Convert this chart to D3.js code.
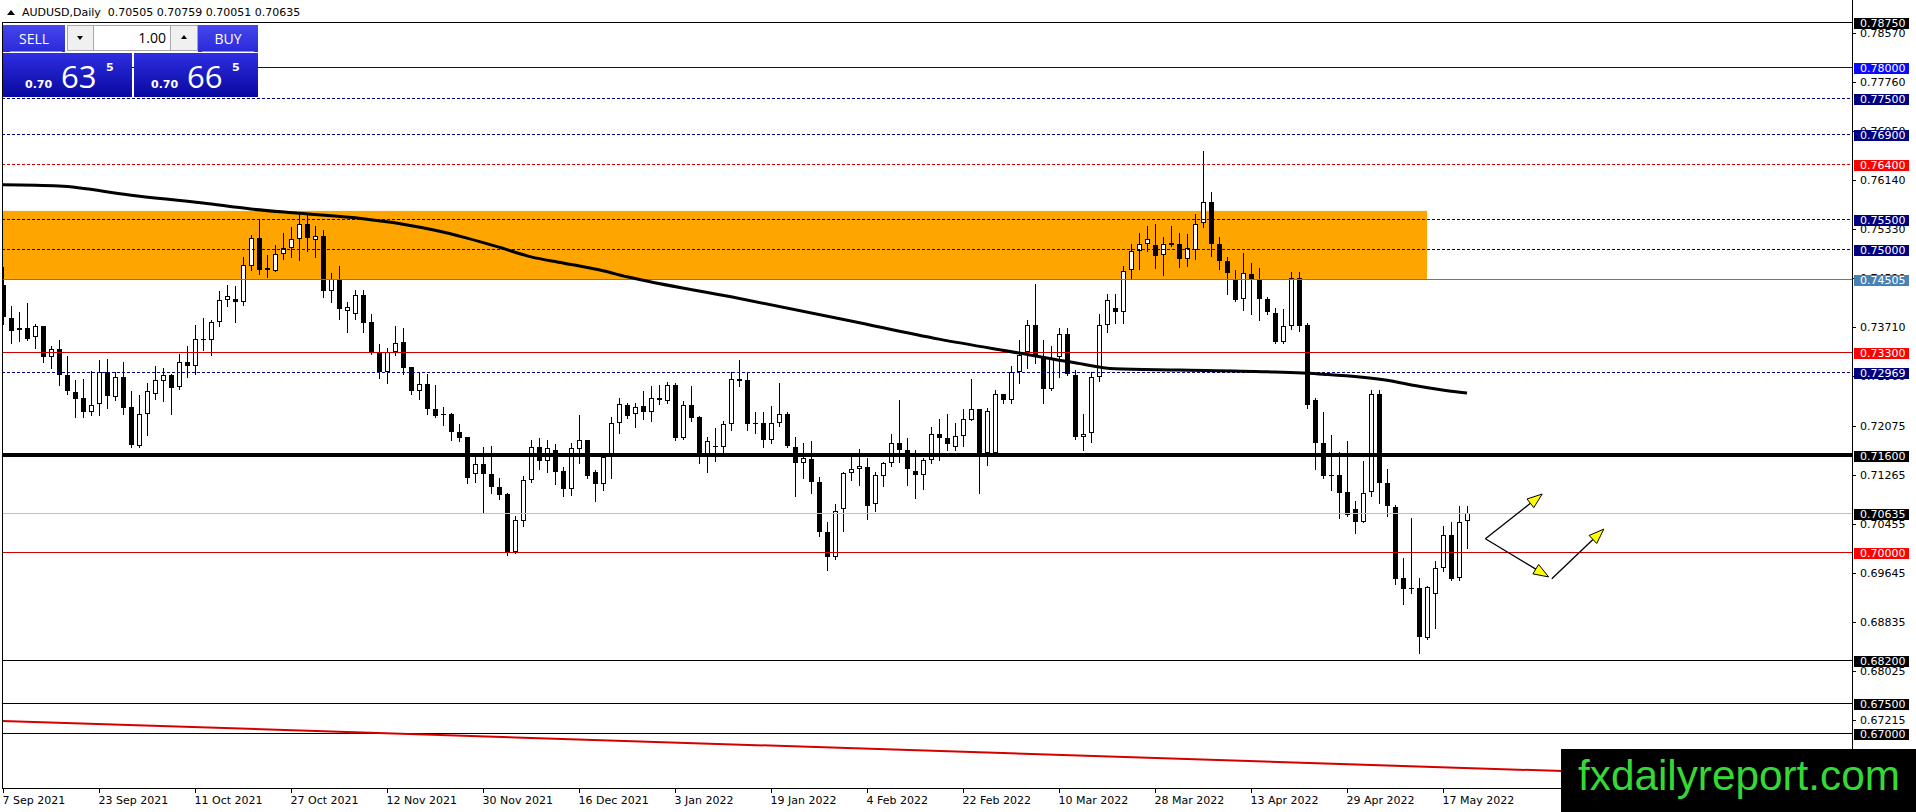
<!DOCTYPE html>
<html>
<head>
<meta charset="utf-8">
<script src="https://d3js.org/d3.v7.min.js"></script>
<style>
  body { margin: 0; background: #fff; overflow: hidden; }
  text { font-family: "DejaVu Sans", sans-serif; }
</style>
</head>
<body>
<div id="vis"></div>
<script>
// AUDUSD daily, 7 Sep 2021 .. 20 May 2022
const opens = [
 .7441,.7386,.7366,.7370,.7355,.7372,.7321,.7335,.7292,.7264,.7254,.7231,.7243,.7297,.7256,.7288,.7239,.7175,.7227,.7260,
 .7282,.7292,.7272,.7313,.7307,.7351,.7350,.7379,.7416,.7417,.7412,.7472,.7518,.7469,.7464,.7491,.7501,.7516,.7542,.7515,
 .7521,.7431,.7448,.7398,.7392,.7424,.7379,.7329,.7296,.7330,.7346,.7305,.7266,.7277,.7235,.7226,.7227,.7198,.7190,.7128,
 .7145,.7128,.7107,.7095,.6999,.7051,.7119,.7172,.7149,.7168,.7133,.7104,.7169,.7184,.7131,.7111,.7156,.7213,.7242,.7228,
 .7240,.7231,.7250,.7249,.7276,.7188,.7242,.7223,.7159,.7172,.7173,.7210,.7285,.7283,.7212,.7212,.7185,.7212,.7227,.7173,
 .7146,.7153,.7115,.7033,.6991,.7070,.7129,.7137,.7140,.7078,.7125,.7147,.7180,.7168,.7133,.7127,.7152,.7195,.7188,.7172,
 .7191,.7218,.7235,.7162,.7162,.7261,.7251,.7296,.7329,.7374,.7321,.7268,.7321,.7360,.7291,.7190,.7196,.7288,.7375,.7403,
 .7396,.7465,.7497,.7509,.7506,.7490,.7510,.7508,.7483,.7499,.7543,.7577,.7508,.7480,.7451,.7417,.7459,.7450,.7418,.7394,
 .7347,.7372,.7452,.7374,.7251,.7179,.7126,.7127,.7099,.7071,.7049,.7098,.7260,.7113,.7073,.6956,.6939,.6939,.6857,.6930,
 .6972,.7028,.6956,.70505];
const highs = [
 .7471,.7406,.7396,.7411,.7376,.7373,.7340,.7350,.7323,.7283,.7285,.7298,.7317,.7318,.7296,.7313,.7265,.7259,.7279,.7306,
 .7303,.7294,.7326,.7340,.7374,.7386,.7383,.7430,.7441,.7439,.7486,.7523,.7548,.7490,.7507,.7526,.7537,.7556,.7556,.7538,
 .7532,.7460,.7472,.7413,.7432,.7432,.7393,.7343,.7336,.7373,.7370,.7305,.7296,.7293,.7275,.7239,.7229,.7211,.7190,.7160,
 .7172,.7174,.7121,.7097,.7058,.7124,.7185,.7187,.7184,.7177,.7139,.7179,.7226,.7185,.7135,.7156,.7222,.7253,.7246,.7246,
 .7265,.7273,.7275,.7280,.7278,.7249,.7274,.7224,.7189,.7204,.7216,.7296,.7316,.7296,.7231,.7230,.7240,.7279,.7231,.7189,
 .7179,.7183,.7123,.7048,.7078,.7132,.7156,.7170,.7155,.7131,.7148,.7195,.7250,.7187,.7168,.7155,.7206,.7219,.7228,.7212,
 .7235,.7285,.7235,.7238,.7267,.7261,.7307,.7349,.7383,.7442,.7350,.7340,.7369,.7369,.7300,.7228,.7296,.7393,.7425,.7425,
 .7472,.7508,.7527,.7538,.7541,.7519,.7538,.7526,.7524,.7558,.7662,.7594,.7519,.7487,.7466,.7494,.7477,.7469,.7421,.7403,
 .7400,.7462,.7462,.7378,.7254,.7230,.7193,.7164,.7183,.7083,.7150,.7267,.7267,.7137,.7077,.6990,.7056,.6956,.6943,.6985,
 .7042,.7048,.7075,.70759];
const lows = [
 .7376,.7345,.7348,.7350,.7337,.7314,.7303,.7276,.7261,.7222,.7223,.7226,.7225,.7238,.7250,.7228,.7172,.7173,.7193,.7252,
 .7249,.7228,.7269,.7289,.7293,.7333,.7324,.7373,.7405,.7380,.7408,.7466,.7459,.7454,.7463,.7483,.7487,.7481,.7496,.7486,
 .7421,.7413,.7384,.7362,.7385,.7362,.7326,.7287,.7278,.7324,.7293,.7260,.7252,.7228,.7222,.7209,.7184,.7182,.7114,.7115,
 .7064,.7096,.7086,.6995,.6998,.7042,.7115,.7136,.7132,.7112,.7092,.7093,.7147,.7121,.7084,.7102,.7122,.7196,.7220,.7206,
 .7219,.7215,.7244,.7245,.7185,.7186,.7216,.7147,.7132,.7150,.7162,.7201,.7273,.7200,.7196,.7172,.7179,.7208,.7173,.7092,
 .7122,.7097,.7026,.6969,.6988,.7034,.7119,.7110,.7053,.7067,.7109,.7142,.7148,.7110,.7088,.7103,.7146,.7152,.7168,.7168,
 .7174,.7217,.7096,.7143,.7161,.7245,.7245,.7278,.7303,.7312,.7246,.7267,.7289,.7292,.7186,.7167,.7181,.7282,.7362,.7377,
 .7377,.7451,.7467,.7497,.7468,.7457,.7505,.7471,.7472,.7484,.7536,.7488,.7467,.7426,.7414,.7399,.7392,.7383,.7392,.7344,
 .7345,.7368,.7364,.7237,.7136,.7121,.7102,.7056,.7059,.7031,.7048,.7091,.7080,.7059,.6947,.6913,.6932,.6832,.6855,.6874,
 .6967,.6953,.6953,.70051];
const closes = [
 .7387,.7365,.7370,.7351,.7372,.7321,.7335,.7291,.7266,.7252,.7231,.7242,.7297,.7257,.7289,.7238,.7176,.7227,.7265,.7283,
 .7292,.7271,.7313,.7307,.7351,.7349,.7379,.7416,.7422,.7412,.7474,.7518,.7466,.7466,.7492,.7501,.7516,.7542,.7518,.7521,
 .7431,.7450,.7400,.7404,.7424,.7378,.7328,.7296,.7330,.7345,.7304,.7266,.7277,.7235,.7224,.7227,.7197,.7188,.7122,.7145,
 .7128,.7106,.7094,.6998,.7052,.7119,.7172,.7149,.7171,.7132,.7104,.7171,.7184,.7124,.7111,.7156,.7213,.7243,.7224,.7239,
 .7231,.7253,.7253,.7276,.7187,.7242,.7221,.7159,.7183,.7175,.7211,.7285,.7282,.7210,.7211,.7185,.7212,.7227,.7175,.7146,
 .7154,.7115,.7033,.6991,.7067,.7129,.7137,.7141,.7076,.7127,.7147,.7180,.7167,.7137,.7127,.7152,.7195,.7187,.7177,.7191,
 .7219,.7235,.7161,.7232,.7261,.7251,.7297,.7325,.7374,.7322,.7268,.7319,.7360,.7293,.7190,.7195,.7288,.7375,.7415,.7396,
 .7464,.7497,.7509,.7516,.7489,.7509,.7507,.7483,.7501,.7542,.7577,.7509,.7480,.7460,.7416,.7460,.7450,.7418,.7396,.7347,
 .7372,.7452,.7372,.7242,.7180,.7124,.7124,.7096,.7060,.7049,.7096,.7260,.7113,.7076,.6955,.6938,.6938,.6858,.6941,.6972,
 .7028,.6955,.7049,.70635];

// moving average (thick black line), read at these bars
const maBars   = [0, 7, 16, 25, 31, 37, 45, 50, 54, 58, 62, 66, 70, 75, 78, 91, 106, 117, 127, 134, 139, 147, 158, 165, 173, 177, 181, 183];
const maValues = [.7606,.7604,.7589,.7576,.7566,.7559,.7550,.7541,.7531,.7518,.7503,.7487,.7477,.7464,.7454,.7421,.7381,.7351,.7328,.7312,.7302,.7300,.7297,.7293,.7283,.7273,.7265,.7262];

// horizontal levels and their kinds
const levelPrices = [0.78750, 0.78000, 0.77500, 0.76900, 0.76400, 0.75500, 0.75000, 0.74505, 0.73300, 0.72969, 0.71600, 0.70635, 0.70000, 0.68200, 0.67500, 0.67000];
const levelKinds  = ["black", "blue", "navy", "navy", "redDash", "navy", "navy", "steel", "red", "navy", "thick", "bid", "red", "black", "black", "black"];

// supply zone rectangle
const zoneBars   = [-1, 178];
const zonePrices = [0.7563, 0.74505];

// red trend line anchors
const trendBars   = [0, 195];
const trendPrices = [0.6720, 0.6637];

// yellow arrows
const arrowFromBar   = [185.3, 185.3, 193.6];
const arrowFromPrice = [0.7021, 0.7021, 0.6955];
const arrowToBar     = [192.4, 193.2, 200.1];
const arrowToPrice   = [0.7095, 0.6958, 0.7037];

// axes
const yTickLabels = ["0.78570", "0.77760", "0.76950", "0.76140", "0.75330", "0.74520", "0.73710", "0.72900", "0.72075", "0.71265", "0.70455", "0.69645", "0.68835", "0.68025", "0.67215"];
const xTickBars   = [0, 12, 24, 36, 48, 60, 72, 84, 96, 108, 120, 132, 144, 156, 168, 180];
const xTickLabels = ["7 Sep 2021", "23 Sep 2021", "11 Oct 2021", "27 Oct 2021", "12 Nov 2021", "30 Nov 2021", "16 Dec 2021", "3 Jan 2022", "19 Jan 2022", "4 Feb 2022", "22 Feb 2022", "10 Mar 2022", "28 Mar 2022", "13 Apr 2022", "29 Apr 2022", "17 May 2022"];

const width = 1916, height = 812;
const plot = { left: 2, right: 1852, top: 0, bottom: 788 };

const svg = d3.select('#vis').append('svg')
  .attr('width', width).attr('height', height)
  .style('display', 'block');

const x = d3.scaleLinear().domain([0, 231]).range([3, 3 + 231 * 8]);
const y = d3.scaleLinear().domain([0.67215, 0.78570]).range([720, 33]);

const styles = {
  black:   { stroke: '#000000', w: 1, dash: null, box: '#000000' },
  blue:    { stroke: '#0000cd', w: 1, dash: null, box: '#0a0aff' },
  navy:    { stroke: '#000080', w: 1, dash: '3,2', box: '#000080' },
  redDash: { stroke: '#d00000', w: 1, dash: '3,2', box: '#ff0000' },
  steel:   { stroke: '#4682b4', w: 1, dash: null, box: '#4682b4' },
  red:     { stroke: '#d00000', w: 1, dash: null, box: '#ff0000' },
  thick:   { stroke: '#000000', w: 4, dash: null, box: '#000000' },
  bid:     { stroke: '#c0c0c0', w: 1, dash: null, box: '#000000' }
};

svg.append('defs').append('clipPath').attr('id', 'plotclip')
  .append('rect')
  .attr('x', plot.left).attr('y', plot.top)
  .attr('width', plot.right - plot.left).attr('height', plot.bottom - plot.top);

const g = svg.append('g').attr('clip-path', 'url(#plotclip)');

// zone
g.append('rect')
  .attr('x', x(zoneBars[0])).attr('y', y(zonePrices[0]))
  .attr('width', x(zoneBars[1]) - x(zoneBars[0]))
  .attr('height', y(zonePrices[1]) - y(zonePrices[0]))
  .attr('fill', '#ffa500');

// candles
const candles = g.append('g').attr('shape-rendering', 'crispEdges');
opens.forEach((o, i) => {
  const c = closes[i];
  const cx = Math.round(x(i));
  const top = Math.round(y(Math.max(o, c)));
  const bot = Math.round(y(Math.min(o, c)));
  candles.append('line')
    .attr('x1', cx + 0.5).attr('x2', cx + 0.5)
    .attr('y1', Math.round(y(highs[i]))).attr('y2', Math.round(y(lows[i])) + 1)
    .attr('stroke', '#000').attr('stroke-width', 1);
  if (bot - top < 2) {
    candles.append('rect')
      .attr('x', cx - 2).attr('y', top).attr('width', 5).attr('height', 1)
      .attr('fill', '#000');
  } else if (c >= o) {
    candles.append('rect')
      .attr('x', cx - 1.5).attr('y', top + 0.5).attr('width', 4).attr('height', bot - top - 1)
      .attr('fill', '#fff').attr('stroke', '#000').attr('stroke-width', 1);
  } else {
    candles.append('rect')
      .attr('x', cx - 2).attr('y', top).attr('width', 5).attr('height', bot - top)
      .attr('fill', '#000');
  }
});

// horizontal levels
levelPrices.forEach((p, i) => {
  const s = styles[levelKinds[i]];
  const yy = Math.round(y(p)) + (s.w % 2 ? 0.5 : 0);
  g.append('line')
    .attr('x1', plot.left).attr('x2', plot.right)
    .attr('y1', yy).attr('y2', yy)
    .attr('stroke', s.stroke).attr('stroke-width', s.w)
    .attr('stroke-dasharray', s.dash);
});

// moving average
g.append('path')
  .datum(maBars.map((b, i) => [b, maValues[i]]))
  .attr('d', d3.line().x(d => x(d[0])).y(d => y(d[1])).curve(d3.curveMonotoneX))
  .attr('fill', 'none').attr('stroke', '#000').attr('stroke-width', 3);

// trend line
g.append('line')
  .attr('x1', x(trendBars[0]) - 2).attr('y1', y(trendPrices[0]))
  .attr('x2', x(trendBars[1])).attr('y2', y(trendPrices[1]))
  .attr('stroke', '#d40000').attr('stroke-width', 2);

// arrows
arrowFromBar.forEach((b, i) => {
  const x1 = x(b), y1 = y(arrowFromPrice[i]);
  const x2 = x(arrowToBar[i]), y2 = y(arrowToPrice[i]);
  const ang = Math.atan2(y2 - y1, x2 - x1);
  const len = 15, half = 5.5;
  const bx = x2 - len * Math.cos(ang), by = y2 - len * Math.sin(ang);
  g.append('line')
    .attr('x1', x1).attr('y1', y1).attr('x2', bx).attr('y2', by)
    .attr('stroke', '#000').attr('stroke-width', 1.3);
  const pts = [
    [x2, y2],
    [bx + half * Math.sin(ang), by - half * Math.cos(ang)],
    [bx - half * Math.sin(ang), by + half * Math.cos(ang)]
  ];
  g.append('polygon')
    .attr('points', pts.map(p => p.join(',')).join(' '))
    .attr('fill', '#ffff00').attr('stroke', '#000').attr('stroke-width', 1);
});

// frame
const frame = svg.append('g').attr('shape-rendering', 'crispEdges');
frame.append('line').attr('x1', 2.5).attr('x2', 2.5).attr('y1', y(levelPrices[0])).attr('y2', plot.bottom)
  .attr('stroke', '#000');
frame.append('line').attr('x1', plot.left).attr('x2', plot.right).attr('y1', plot.bottom + 0.5).attr('y2', plot.bottom + 0.5)
  .attr('stroke', '#000');
frame.append('line').attr('x1', plot.right + 0.5).attr('x2', plot.right + 0.5).attr('y1', 0).attr('y2', plot.bottom + 1)
  .attr('stroke', '#000');

// y tick labels
yTickLabels.forEach(t => {
  const yy = Math.round(y(+t)) + 0.5;
  frame.append('line').attr('x1', plot.right).attr('x2', plot.right + 4).attr('y1', yy).attr('y2', yy).attr('stroke', '#000');
  svg.append('text')
    .attr('x', plot.right + 8).attr('y', yy).attr('dy', '0.36em')
    .attr('font-size', 11).attr('fill', '#000')
    .text(t);
});

// level price boxes
levelPrices.forEach((p, i) => {
  const s = styles[levelKinds[i]];
  const yy = Math.round(y(p));
  svg.append('rect')
    .attr('x', plot.right + 2).attr('y', yy - 4).attr('width', 55).attr('height', 11)
    .attr('fill', s.box).attr('shape-rendering', 'crispEdges');
  svg.append('text')
    .attr('x', plot.right + 8).attr('y', yy + 1.5).attr('dy', '0.36em')
    .attr('font-size', 11).attr('fill', '#fff')
    .text(p.toFixed(5));
});

// x ticks
xTickBars.forEach((b, i) => {
  const xx = Math.round(x(b)) + 0.5;
  frame.append('line').attr('x1', xx).attr('x2', xx).attr('y1', plot.bottom).attr('y2', plot.bottom + 5).attr('stroke', '#000');
  svg.append('text')
    .attr('x', xx - 1).attr('y', 804)
    .attr('font-size', 11).attr('fill', '#000')
    .text(xTickLabels[i]);
});

// header
const last = opens.length - 1;
svg.append('path').attr('d', 'M7,15 L11,10 L15,15 Z').attr('fill', '#000');
svg.append('text')
  .attr('x', 22).attr('y', 16)
  .attr('font-size', 11).attr('fill', '#000')
  .attr('xml:space', 'preserve')
  .text(`AUDUSD,Daily  ${opens[last].toFixed(5)} ${highs[last].toFixed(5)} ${lows[last].toFixed(5)} ${closes[last].toFixed(5)}`);

// one-click trading panel
const defs = svg.select('defs');
const grad = defs.append('linearGradient').attr('id', 'pb').attr('x1', 0).attr('y1', 0).attr('x2', 0).attr('y2', 1);
grad.append('stop').attr('offset', '0%').attr('stop-color', '#2e2ee2');
grad.append('stop').attr('offset', '100%').attr('stop-color', '#0808a0');
const grad2 = defs.append('linearGradient').attr('id', 'pt').attr('x1', 0).attr('y1', 0).attr('x2', 0).attr('y2', 1);
grad2.append('stop').attr('offset', '0%').attr('stop-color', '#4646ee');
grad2.append('stop').attr('offset', '100%').attr('stop-color', '#2a2ad8');

const panel = svg.append('g').attr('shape-rendering', 'crispEdges');
const bid = closes[last];
const ask = bid + 0.0003;
const pieces = v => {
  const s = v.toFixed(5);
  return [s.slice(0, 4), s.slice(4, 6), s.slice(6)];
};

panel.append('rect').attr('x', 3).attr('y', 25).attr('width', 62).attr('height', 27).attr('fill', 'url(#pt)');
panel.append('rect').attr('x', 198).attr('y', 25).attr('width', 60).attr('height', 27).attr('fill', 'url(#pt)');
panel.append('line').attr('x1', 10).attr('x2', 62).attr('y1', 51.5).attr('y2', 51.5).attr('stroke', '#8a8aff');
panel.append('line').attr('x1', 202).attr('x2', 254).attr('y1', 51.5).attr('y2', 51.5).attr('stroke', '#8a8aff');
panel.append('rect').attr('x', 3).attr('y', 53).attr('width', 129).attr('height', 44).attr('fill', 'url(#pb)');
panel.append('rect').attr('x', 134).attr('y', 53).attr('width', 124).attr('height', 44).attr('fill', 'url(#pb)');

panel.append('rect').attr('x', 67.5).attr('y', 25.5).attr('width', 130).attr('height', 25).attr('fill', '#f0f0f0').attr('stroke', '#a8a8a8');
panel.append('rect').attr('x', 93.5).attr('y', 25.5).attr('width', 77).attr('height', 25).attr('fill', '#fff').attr('stroke', '#a8a8a8');
panel.append('path').attr('d', 'M77,36 L83,36 L80,40 Z').attr('fill', '#000').attr('shape-rendering', 'auto');
panel.append('path').attr('d', 'M181,39 L187,39 L184,35 Z').attr('fill', '#000').attr('shape-rendering', 'auto');
panel.append('text').attr('x', 166).attr('y', 43).attr('text-anchor', 'end')
  .style('font-family', '"Open Sans", sans-serif').attr('font-size', 14).attr('fill', '#000').text('1.00');

panel.append('text').attr('x', 34).attr('y', 44).attr('text-anchor', 'middle')
  .style('font-family', '"Open Sans", sans-serif').attr('font-size', 14).attr('fill', '#fff').text('SELL');
panel.append('text').attr('x', 228).attr('y', 44).attr('text-anchor', 'middle')
  .style('font-family', '"Open Sans", sans-serif').attr('font-size', 14).attr('fill', '#fff').text('BUY');

[[bid, 25, 61, 106], [ask, 151, 187, 232]].forEach(([v, xa, xb, xc]) => {
  const [a, b, c] = pieces(v);
  panel.append('text').attr('x', xa).attr('y', 88).attr('font-size', 11).attr('font-weight', 'bold').attr('fill', '#fff').text(a);
  panel.append('text').attr('x', xb).attr('y', 88)
    .style('font-family', '"Open Sans", sans-serif').attr('font-size', 31).attr('fill', '#fff').text(b);
  panel.append('text').attr('x', xc).attr('y', 71).attr('font-size', 11).attr('font-weight', 'bold').attr('fill', '#fff').text(c);
});

// watermark
svg.append('rect').attr('x', 1561).attr('y', 749).attr('width', 355).attr('height', 63).attr('fill', '#000');
svg.append('text')
  .attr('x', 1578).attr('y', 790)
  .style('font-family', '"Liberation Sans", Arial, sans-serif')
  .attr('font-size', 42).attr('fill', '#35d935')
  .attr('textLength', 322).attr('lengthAdjust', 'spacingAndGlyphs')
  .text('fxdailyreport.com');
</script>
</body>
</html>
